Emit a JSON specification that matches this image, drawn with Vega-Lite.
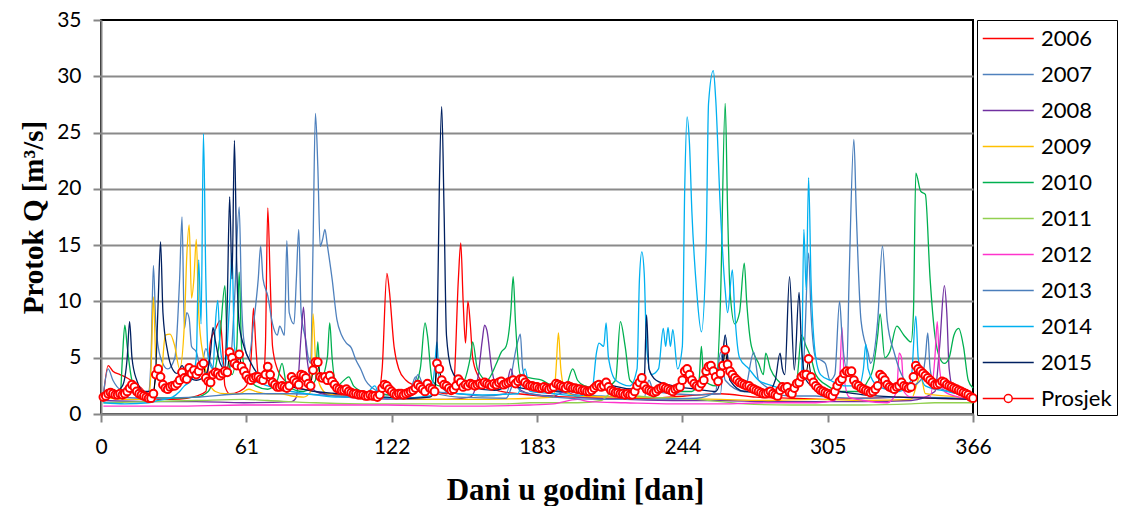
{
"$schema":"https://vega.github.io/schema/vega-lite/v6.json",
"autosize":"none",
"width":872,"height":394,
"padding":{"left":101,"top":20,"right":158,"bottom":92},
"background":"white",
"config":{"view":{"stroke":"black","strokeWidth":2},"font":"Lato"},
"datasets":{
"years":[
{"s":"2006","d":1,"q":1.5},{"s":"2006","d":3,"q":4.3},{"s":"2006","d":5,"q":3.8},{"s":"2006","d":8,"q":3.5},{"s":"2006","d":11,"q":3.2},{"s":"2006","d":14,"q":2.8},{"s":"2006","d":17,"q":2.3},{"s":"2006","d":20,"q":1.6},{"s":"2006","d":24,"q":1.3},{"s":"2006","d":30,"q":1.3},{"s":"2006","d":36,"q":1.4},{"s":"2006","d":40,"q":1.6},{"s":"2006","d":44,"q":2.0},{"s":"2006","d":46,"q":6.5},{"s":"2006","d":48,"q":7.5},{"s":"2006","d":50,"q":8.3},{"s":"2006","d":51,"q":6},{"s":"2006","d":52,"q":2.5},{"s":"2006","d":54,"q":1.8},{"s":"2006","d":58,"q":2.0},{"s":"2006","d":61,"q":2.5},{"s":"2006","d":63,"q":5},{"s":"2006","d":64,"q":9.4},{"s":"2006","d":65,"q":6},{"s":"2006","d":66,"q":3.5},{"s":"2006","d":68,"q":3},{"s":"2006","d":69,"q":6},{"s":"2006","d":70,"q":18.3},{"s":"2006","d":71,"q":12},{"s":"2006","d":72,"q":6},{"s":"2006","d":74,"q":4},{"s":"2006","d":77,"q":3},{"s":"2006","d":80,"q":2.5},{"s":"2006","d":85,"q":2.2},{"s":"2006","d":90,"q":2},{"s":"2006","d":95,"q":1.8},{"s":"2006","d":100,"q":1.7},{"s":"2006","d":105,"q":1.6},{"s":"2006","d":110,"q":1.5},{"s":"2006","d":116,"q":1.5},{"s":"2006","d":118,"q":4},{"s":"2006","d":120,"q":12.5},{"s":"2006","d":121,"q":11},{"s":"2006","d":123,"q":6},{"s":"2006","d":125,"q":4},{"s":"2006","d":128,"q":3},{"s":"2006","d":132,"q":2.5},{"s":"2006","d":136,"q":2.2},{"s":"2006","d":140,"q":2.0},{"s":"2006","d":145,"q":1.8},{"s":"2006","d":148,"q":2.5},{"s":"2006","d":150,"q":12},{"s":"2006","d":151,"q":15.2},{"s":"2006","d":152,"q":10},{"s":"2006","d":153,"q":6.3},{"s":"2006","d":154,"q":10},{"s":"2006","d":155,"q":8},{"s":"2006","d":156,"q":5},{"s":"2006","d":158,"q":3.5},{"s":"2006","d":162,"q":2.5},{"s":"2006","d":168,"q":2},{"s":"2006","d":175,"q":1.8},{"s":"2006","d":185,"q":1.6},{"s":"2006","d":200,"q":1.5},{"s":"2006","d":215,"q":1.4},{"s":"2006","d":230,"q":1.4},{"s":"2006","d":245,"q":1.6},{"s":"2006","d":260,"q":1.8},{"s":"2006","d":275,"q":1.5},{"s":"2006","d":290,"q":1.4},{"s":"2006","d":305,"q":1.3},{"s":"2006","d":320,"q":1.4},{"s":"2006","d":335,"q":1.5},{"s":"2006","d":350,"q":1.4},{"s":"2006","d":366,"q":1.3},
{"s":"2007","d":1,"q":1.8},{"s":"2007","d":3,"q":4},{"s":"2007","d":5,"q":3},{"s":"2007","d":8,"q":2.2},{"s":"2007","d":12,"q":2},{"s":"2007","d":16,"q":1.8},{"s":"2007","d":20,"q":2},{"s":"2007","d":21,"q":5},{"s":"2007","d":22,"q":13.2},{"s":"2007","d":23,"q":8},{"s":"2007","d":25,"q":5},{"s":"2007","d":28,"q":4},{"s":"2007","d":31,"q":5},{"s":"2007","d":33,"q":12},{"s":"2007","d":34,"q":17.5},{"s":"2007","d":35,"q":7.6},{"s":"2007","d":36,"q":9},{"s":"2007","d":37,"q":8.5},{"s":"2007","d":38,"q":6},{"s":"2007","d":40,"q":5.5},{"s":"2007","d":42,"q":4},{"s":"2007","d":44,"q":5.8},{"s":"2007","d":46,"q":4.5},{"s":"2007","d":50,"q":3.5},{"s":"2007","d":54,"q":4},{"s":"2007","d":56,"q":10},{"s":"2007","d":58,"q":18.4},{"s":"2007","d":59,"q":10},{"s":"2007","d":60,"q":6.5},{"s":"2007","d":62,"q":5},{"s":"2007","d":64,"q":8},{"s":"2007","d":66,"q":12},{"s":"2007","d":67,"q":14.9},{"s":"2007","d":68,"q":12},{"s":"2007","d":70,"q":10.5},{"s":"2007","d":72,"q":8},{"s":"2007","d":74,"q":7},{"s":"2007","d":75,"q":7.8},{"s":"2007","d":77,"q":7},{"s":"2007","d":78,"q":15.4},{"s":"2007","d":79,"q":9},{"s":"2007","d":81,"q":8},{"s":"2007","d":82,"q":12},{"s":"2007","d":83,"q":16.4},{"s":"2007","d":84,"q":9},{"s":"2007","d":86,"q":6.5},{"s":"2007","d":87,"q":5},{"s":"2007","d":88,"q":4.5},{"s":"2007","d":89,"q":15},{"s":"2007","d":90,"q":26.7},{"s":"2007","d":91,"q":22},{"s":"2007","d":92,"q":14.9},{"s":"2007","d":93,"q":15.5},{"s":"2007","d":94,"q":16.4},{"s":"2007","d":95,"q":15},{"s":"2007","d":97,"q":12},{"s":"2007","d":99,"q":8.4},{"s":"2007","d":101,"q":7},{"s":"2007","d":103,"q":6.3},{"s":"2007","d":105,"q":5.9},{"s":"2007","d":107,"q":4.8},{"s":"2007","d":109,"q":4},{"s":"2007","d":111,"q":3},{"s":"2007","d":114,"q":2.3},{"s":"2007","d":118,"q":1.8},{"s":"2007","d":125,"q":1.6},{"s":"2007","d":130,"q":2.2},{"s":"2007","d":132,"q":3.3},{"s":"2007","d":134,"q":2.5},{"s":"2007","d":140,"q":2},{"s":"2007","d":150,"q":1.8},{"s":"2007","d":160,"q":1.6},{"s":"2007","d":170,"q":1.8},{"s":"2007","d":175,"q":6.5},{"s":"2007","d":176,"q":7.1},{"s":"2007","d":177,"q":4},{"s":"2007","d":180,"q":2.5},{"s":"2007","d":190,"q":2},{"s":"2007","d":200,"q":1.7},{"s":"2007","d":210,"q":1.6},{"s":"2007","d":220,"q":1.5},{"s":"2007","d":228,"q":1.5},{"s":"2007","d":230,"q":3},{"s":"2007","d":232,"q":2},{"s":"2007","d":240,"q":1.8},{"s":"2007","d":250,"q":1.7},{"s":"2007","d":260,"q":1.8},{"s":"2007","d":262,"q":7},{"s":"2007","d":264,"q":3},{"s":"2007","d":270,"q":2},{"s":"2007","d":280,"q":1.8},{"s":"2007","d":290,"q":1.6},{"s":"2007","d":300,"q":1.6},{"s":"2007","d":305,"q":1.5},{"s":"2007","d":320,"q":1.4},{"s":"2007","d":340,"q":1.5},{"s":"2007","d":366,"q":1.4},
{"s":"2008","d":1,"q":1.2},{"s":"2008","d":20,"q":1.1},{"s":"2008","d":40,"q":1.1},{"s":"2008","d":60,"q":1.0},{"s":"2008","d":80,"q":1.1},{"s":"2008","d":82,"q":1.5},{"s":"2008","d":84,"q":7},{"s":"2008","d":85,"q":9.5},{"s":"2008","d":86,"q":6},{"s":"2008","d":88,"q":3},{"s":"2008","d":90,"q":2},{"s":"2008","d":95,"q":1.7},{"s":"2008","d":110,"q":1.4},{"s":"2008","d":130,"q":1.3},{"s":"2008","d":145,"q":1.3},{"s":"2008","d":155,"q":1.5},{"s":"2008","d":158,"q":3},{"s":"2008","d":160,"q":6.5},{"s":"2008","d":161,"q":7.9},{"s":"2008","d":162,"q":7.4},{"s":"2008","d":164,"q":4},{"s":"2008","d":166,"q":2.5},{"s":"2008","d":170,"q":2.5},{"s":"2008","d":172,"q":4},{"s":"2008","d":174,"q":2.5},{"s":"2008","d":180,"q":1.8},{"s":"2008","d":190,"q":1.6},{"s":"2008","d":195,"q":2},{"s":"2008","d":200,"q":1.5},{"s":"2008","d":220,"q":1.3},{"s":"2008","d":240,"q":1.2},{"s":"2008","d":260,"q":1.2},{"s":"2008","d":280,"q":1.1},{"s":"2008","d":300,"q":1.1},{"s":"2008","d":320,"q":1.1},{"s":"2008","d":340,"q":1.2},{"s":"2008","d":350,"q":2},{"s":"2008","d":352,"q":6},{"s":"2008","d":354,"q":11.4},{"s":"2008","d":355,"q":9},{"s":"2008","d":356,"q":4},{"s":"2008","d":358,"q":2},{"s":"2008","d":366,"q":1.5},
{"s":"2009","d":1,"q":1.5},{"s":"2009","d":10,"q":1.3},{"s":"2009","d":20,"q":1.3},{"s":"2009","d":21,"q":4},{"s":"2009","d":22,"q":10.4},{"s":"2009","d":23,"q":5},{"s":"2009","d":25,"q":3},{"s":"2009","d":27,"q":7},{"s":"2009","d":29,"q":7.1},{"s":"2009","d":31,"q":6},{"s":"2009","d":33,"q":4},{"s":"2009","d":35,"q":8},{"s":"2009","d":36,"q":14},{"s":"2009","d":37,"q":16.8},{"s":"2009","d":38,"q":10.3},{"s":"2009","d":39,"q":12},{"s":"2009","d":40,"q":15.5},{"s":"2009","d":41,"q":9},{"s":"2009","d":43,"q":5},{"s":"2009","d":45,"q":3},{"s":"2009","d":48,"q":2},{"s":"2009","d":52,"q":1.8},{"s":"2009","d":58,"q":1.8},{"s":"2009","d":62,"q":2.2},{"s":"2009","d":65,"q":2.0},{"s":"2009","d":70,"q":1.8},{"s":"2009","d":75,"q":1.8},{"s":"2009","d":80,"q":1.6},{"s":"2009","d":85,"q":1.5},{"s":"2009","d":88,"q":2},{"s":"2009","d":89,"q":8.9},{"s":"2009","d":90,"q":5},{"s":"2009","d":92,"q":2.5},{"s":"2009","d":95,"q":1.8},{"s":"2009","d":105,"q":1.5},{"s":"2009","d":120,"q":1.4},{"s":"2009","d":140,"q":1.3},{"s":"2009","d":160,"q":1.3},{"s":"2009","d":180,"q":1.4},{"s":"2009","d":190,"q":1.5},{"s":"2009","d":191,"q":4},{"s":"2009","d":192,"q":7.2},{"s":"2009","d":193,"q":4},{"s":"2009","d":195,"q":2},{"s":"2009","d":200,"q":1.6},{"s":"2009","d":220,"q":1.5},{"s":"2009","d":240,"q":1.4},{"s":"2009","d":260,"q":1.3},{"s":"2009","d":280,"q":1.2},{"s":"2009","d":300,"q":1.3},{"s":"2009","d":320,"q":1.2},{"s":"2009","d":340,"q":1.3},{"s":"2009","d":344,"q":3.4},{"s":"2009","d":346,"q":1.8},{"s":"2009","d":360,"q":1.5},{"s":"2009","d":366,"q":1.3},
{"s":"2010","d":1,"q":1.5},{"s":"2010","d":8,"q":1.5},{"s":"2010","d":9,"q":5},{"s":"2010","d":10,"q":7.9},{"s":"2010","d":11,"q":6},{"s":"2010","d":13,"q":3},{"s":"2010","d":16,"q":2},{"s":"2010","d":20,"q":1.5},{"s":"2010","d":30,"q":1.4},{"s":"2010","d":40,"q":1.5},{"s":"2010","d":45,"q":2},{"s":"2010","d":48,"q":4},{"s":"2010","d":50,"q":7},{"s":"2010","d":52,"q":11.4},{"s":"2010","d":53,"q":6},{"s":"2010","d":55,"q":3.5},{"s":"2010","d":57,"q":6},{"s":"2010","d":58,"q":12.6},{"s":"2010","d":59,"q":6},{"s":"2010","d":61,"q":3.5},{"s":"2010","d":65,"q":2.5},{"s":"2010","d":70,"q":2.2},{"s":"2010","d":74,"q":3},{"s":"2010","d":76,"q":4.5},{"s":"2010","d":78,"q":2.5},{"s":"2010","d":85,"q":2},{"s":"2010","d":90,"q":3},{"s":"2010","d":91,"q":6.4},{"s":"2010","d":92,"q":3},{"s":"2010","d":95,"q":5},{"s":"2010","d":96,"q":8.1},{"s":"2010","d":97,"q":5},{"s":"2010","d":99,"q":2.5},{"s":"2010","d":102,"q":3},{"s":"2010","d":104,"q":3.3},{"s":"2010","d":106,"q":2.5},{"s":"2010","d":110,"q":2},{"s":"2010","d":120,"q":1.7},{"s":"2010","d":130,"q":1.8},{"s":"2010","d":134,"q":4},{"s":"2010","d":136,"q":8.1},{"s":"2010","d":137,"q":7},{"s":"2010","d":139,"q":3},{"s":"2010","d":142,"q":2.5},{"s":"2010","d":145,"q":2.5},{"s":"2010","d":150,"q":2.2},{"s":"2010","d":155,"q":5},{"s":"2010","d":156,"q":6.4},{"s":"2010","d":158,"q":4},{"s":"2010","d":162,"q":3},{"s":"2010","d":166,"q":4.5},{"s":"2010","d":168,"q":5.5},{"s":"2010","d":170,"q":6},{"s":"2010","d":172,"q":9},{"s":"2010","d":173,"q":12.2},{"s":"2010","d":174,"q":8},{"s":"2010","d":176,"q":3.5},{"s":"2010","d":180,"q":3.2},{"s":"2010","d":185,"q":3},{"s":"2010","d":190,"q":2.5},{"s":"2010","d":195,"q":2.5},{"s":"2010","d":198,"q":4},{"s":"2010","d":200,"q":3},{"s":"2010","d":203,"q":2.5},{"s":"2010","d":210,"q":2.2},{"s":"2010","d":216,"q":3},{"s":"2010","d":218,"q":8.2},{"s":"2010","d":220,"q":6},{"s":"2010","d":222,"q":3},{"s":"2010","d":226,"q":2.5},{"s":"2010","d":232,"q":2.3},{"s":"2010","d":240,"q":2},{"s":"2010","d":248,"q":2},{"s":"2010","d":251,"q":3},{"s":"2010","d":252,"q":6},{"s":"2010","d":253,"q":3},{"s":"2010","d":258,"q":2.5},{"s":"2010","d":260,"q":10},{"s":"2010","d":262,"q":27.6},{"s":"2010","d":263,"q":18},{"s":"2010","d":264,"q":11},{"s":"2010","d":266,"q":8},{"s":"2010","d":268,"q":9},{"s":"2010","d":270,"q":13.4},{"s":"2010","d":271,"q":10},{"s":"2010","d":273,"q":6},{"s":"2010","d":276,"q":4.5},{"s":"2010","d":278,"q":3.5},{"s":"2010","d":279,"q":5.4},{"s":"2010","d":281,"q":4},{"s":"2010","d":284,"q":3},{"s":"2010","d":288,"q":2.5},{"s":"2010","d":292,"q":3},{"s":"2010","d":294,"q":7},{"s":"2010","d":296,"q":6},{"s":"2010","d":298,"q":5},{"s":"2010","d":300,"q":3.5},{"s":"2010","d":305,"q":2.5},{"s":"2010","d":310,"q":2},{"s":"2010","d":318,"q":2},{"s":"2010","d":322,"q":3},{"s":"2010","d":324,"q":4},{"s":"2010","d":326,"q":7},{"s":"2010","d":327,"q":8.9},{"s":"2010","d":329,"q":5},{"s":"2010","d":331,"q":5.5},{"s":"2010","d":334,"q":7.8},{"s":"2010","d":337,"q":7},{"s":"2010","d":340,"q":6.4},{"s":"2010","d":341,"q":9},{"s":"2010","d":342,"q":21.4},{"s":"2010","d":344,"q":19.8},{"s":"2010","d":346,"q":19.5},{"s":"2010","d":348,"q":12},{"s":"2010","d":350,"q":7},{"s":"2010","d":352,"q":5},{"s":"2010","d":354,"q":4.5},{"s":"2010","d":356,"q":5},{"s":"2010","d":358,"q":7},{"s":"2010","d":360,"q":7.6},{"s":"2010","d":362,"q":6},{"s":"2010","d":364,"q":3},{"s":"2010","d":366,"q":2.3},
{"s":"2011","d":1,"q":1.0},{"s":"2011","d":20,"q":1.1},{"s":"2011","d":40,"q":1.2},{"s":"2011","d":60,"q":1.3},{"s":"2011","d":70,"q":1.2},{"s":"2011","d":90,"q":1.0},{"s":"2011","d":110,"q":0.9},{"s":"2011","d":130,"q":0.9},{"s":"2011","d":150,"q":0.9},{"s":"2011","d":170,"q":0.9},{"s":"2011","d":180,"q":1.0},{"s":"2011","d":200,"q":1.0},{"s":"2011","d":210,"q":1.2},{"s":"2011","d":215,"q":2.0},{"s":"2011","d":225,"q":1.6},{"s":"2011","d":240,"q":1.4},{"s":"2011","d":250,"q":1.3},{"s":"2011","d":260,"q":1.1},{"s":"2011","d":270,"q":0.9},{"s":"2011","d":290,"q":0.8},{"s":"2011","d":305,"q":0.8},{"s":"2011","d":320,"q":0.8},{"s":"2011","d":340,"q":0.9},{"s":"2011","d":350,"q":1.0},{"s":"2011","d":366,"q":1.0},
{"s":"2012","d":1,"q":0.7},{"s":"2012","d":30,"q":0.7},{"s":"2012","d":60,"q":0.8},{"s":"2012","d":90,"q":0.8},{"s":"2012","d":120,"q":0.8},{"s":"2012","d":150,"q":0.7},{"s":"2012","d":180,"q":0.8},{"s":"2012","d":190,"q":0.9},{"s":"2012","d":200,"q":1.3},{"s":"2012","d":205,"q":1.1},{"s":"2012","d":220,"q":1.0},{"s":"2012","d":240,"q":0.9},{"s":"2012","d":260,"q":0.9},{"s":"2012","d":280,"q":1.0},{"s":"2012","d":300,"q":1.0},{"s":"2012","d":308,"q":1.2},{"s":"2012","d":310,"q":3},{"s":"2012","d":311,"q":7.7},{"s":"2012","d":312,"q":3},{"s":"2012","d":314,"q":1.5},{"s":"2012","d":320,"q":1.2},{"s":"2012","d":330,"q":1.0},{"s":"2012","d":334,"q":2},{"s":"2012","d":335,"q":5.4},{"s":"2012","d":336,"q":5},{"s":"2012","d":337,"q":2},{"s":"2012","d":340,"q":1.5},{"s":"2012","d":348,"q":1.5},{"s":"2012","d":350,"q":5},{"s":"2012","d":351,"q":8.2},{"s":"2012","d":352,"q":4},{"s":"2012","d":354,"q":2},{"s":"2012","d":360,"q":1.5},{"s":"2012","d":366,"q":1.2},
{"s":"2013","d":1,"q":1.6},{"s":"2013","d":20,"q":1.4},{"s":"2013","d":40,"q":1.5},{"s":"2013","d":60,"q":1.8},{"s":"2013","d":80,"q":1.8},{"s":"2013","d":100,"q":1.6},{"s":"2013","d":120,"q":1.4},{"s":"2013","d":130,"q":1.6},{"s":"2013","d":133,"q":3.5},{"s":"2013","d":136,"q":2.2},{"s":"2013","d":150,"q":1.5},{"s":"2013","d":170,"q":1.4},{"s":"2013","d":174,"q":3},{"s":"2013","d":176,"q":2},{"s":"2013","d":190,"q":1.5},{"s":"2013","d":210,"q":1.3},{"s":"2013","d":230,"q":1.3},{"s":"2013","d":250,"q":1.4},{"s":"2013","d":258,"q":2},{"s":"2013","d":260,"q":5.5},{"s":"2013","d":262,"q":3},{"s":"2013","d":270,"q":2},{"s":"2013","d":274,"q":5.5},{"s":"2013","d":276,"q":3},{"s":"2013","d":285,"q":2},{"s":"2013","d":292,"q":2.2},{"s":"2013","d":295,"q":5},{"s":"2013","d":297,"q":14.3},{"s":"2013","d":298,"q":9},{"s":"2013","d":300,"q":5},{"s":"2013","d":302,"q":4.8},{"s":"2013","d":304,"q":4.5},{"s":"2013","d":306,"q":3},{"s":"2013","d":308,"q":3.5},{"s":"2013","d":310,"q":10},{"s":"2013","d":311,"q":7},{"s":"2013","d":313,"q":4},{"s":"2013","d":314,"q":12},{"s":"2013","d":316,"q":24.4},{"s":"2013","d":317,"q":18},{"s":"2013","d":319,"q":8.3},{"s":"2013","d":322,"q":5.4},{"s":"2013","d":323,"q":4.5},{"s":"2013","d":326,"q":8.3},{"s":"2013","d":328,"q":14.9},{"s":"2013","d":330,"q":8.3},{"s":"2013","d":333,"q":5.4},{"s":"2013","d":336,"q":3.5},{"s":"2013","d":340,"q":2.5},{"s":"2013","d":344,"q":3},{"s":"2013","d":346,"q":5},{"s":"2013","d":347,"q":7.2},{"s":"2013","d":348,"q":4},{"s":"2013","d":350,"q":2.5},{"s":"2013","d":356,"q":2},{"s":"2013","d":366,"q":1.5},
{"s":"2014","d":1,"q":1.0},{"s":"2014","d":10,"q":0.9},{"s":"2014","d":20,"q":1.0},{"s":"2014","d":24,"q":1.2},{"s":"2014","d":30,"q":1.5},{"s":"2014","d":33,"q":2},{"s":"2014","d":35,"q":2.5},{"s":"2014","d":38,"q":3},{"s":"2014","d":40,"q":5},{"s":"2014","d":41,"q":13.7},{"s":"2014","d":42,"q":8},{"s":"2014","d":43,"q":24.9},{"s":"2014","d":44,"q":12},{"s":"2014","d":45,"q":5},{"s":"2014","d":47,"q":4},{"s":"2014","d":48,"q":8},{"s":"2014","d":49,"q":10.1},{"s":"2014","d":50,"q":6},{"s":"2014","d":52,"q":4},{"s":"2014","d":54,"q":10},{"s":"2014","d":55,"q":14.3},{"s":"2014","d":56,"q":6},{"s":"2014","d":58,"q":4},{"s":"2014","d":62,"q":3},{"s":"2014","d":66,"q":2.8},{"s":"2014","d":70,"q":2.5},{"s":"2014","d":75,"q":2.2},{"s":"2014","d":80,"q":2},{"s":"2014","d":90,"q":1.7},{"s":"2014","d":100,"q":1.5},{"s":"2014","d":110,"q":1.5},{"s":"2014","d":115,"q":2.5},{"s":"2014","d":117,"q":1.5},{"s":"2014","d":125,"q":1.4},{"s":"2014","d":138,"q":1.6},{"s":"2014","d":140,"q":4},{"s":"2014","d":141,"q":6.4},{"s":"2014","d":142,"q":3},{"s":"2014","d":145,"q":2},{"s":"2014","d":150,"q":1.8},{"s":"2014","d":160,"q":1.7},{"s":"2014","d":175,"q":1.8},{"s":"2014","d":178,"q":4},{"s":"2014","d":180,"q":2},{"s":"2014","d":190,"q":1.8},{"s":"2014","d":200,"q":1.6},{"s":"2014","d":206,"q":2},{"s":"2014","d":208,"q":5.5},{"s":"2014","d":209,"q":6.3},{"s":"2014","d":211,"q":6},{"s":"2014","d":212,"q":8.1},{"s":"2014","d":213,"q":5},{"s":"2014","d":216,"q":3},{"s":"2014","d":222,"q":2.5},{"s":"2014","d":225,"q":4},{"s":"2014","d":226,"q":12},{"s":"2014","d":227,"q":14.4},{"s":"2014","d":228,"q":12.5},{"s":"2014","d":229,"q":6},{"s":"2014","d":231,"q":3.5},{"s":"2014","d":234,"q":4},{"s":"2014","d":236,"q":7.6},{"s":"2014","d":237,"q":6},{"s":"2014","d":238,"q":7.7},{"s":"2014","d":239,"q":6},{"s":"2014","d":240,"q":7.5},{"s":"2014","d":242,"q":4},{"s":"2014","d":244,"q":6},{"s":"2014","d":245,"q":20},{"s":"2014","d":246,"q":26.4},{"s":"2014","d":247,"q":24},{"s":"2014","d":248,"q":18},{"s":"2014","d":250,"q":11},{"s":"2014","d":252,"q":7.3},{"s":"2014","d":254,"q":15},{"s":"2014","d":255,"q":27.6},{"s":"2014","d":257,"q":30.5},{"s":"2014","d":258,"q":28},{"s":"2014","d":260,"q":18},{"s":"2014","d":262,"q":11},{"s":"2014","d":263,"q":9},{"s":"2014","d":265,"q":12.8},{"s":"2014","d":266,"q":9},{"s":"2014","d":268,"q":5},{"s":"2014","d":272,"q":4},{"s":"2014","d":276,"q":3},{"s":"2014","d":282,"q":2.5},{"s":"2014","d":290,"q":2},{"s":"2014","d":294,"q":3},{"s":"2014","d":295,"q":16.4},{"s":"2014","d":296,"q":11},{"s":"2014","d":297,"q":21},{"s":"2014","d":298,"q":12},{"s":"2014","d":300,"q":5},{"s":"2014","d":302,"q":3.5},{"s":"2014","d":306,"q":3},{"s":"2014","d":312,"q":2.5},{"s":"2014","d":318,"q":2.5},{"s":"2014","d":320,"q":4},{"s":"2014","d":321,"q":6.2},{"s":"2014","d":322,"q":4},{"s":"2014","d":326,"q":2.5},{"s":"2014","d":335,"q":2},{"s":"2014","d":340,"q":3},{"s":"2014","d":342,"q":8.7},{"s":"2014","d":343,"q":5},{"s":"2014","d":346,"q":2.5},{"s":"2014","d":355,"q":2},{"s":"2014","d":366,"q":1.5},
{"s":"2015","d":1,"q":1.8},{"s":"2015","d":5,"q":1.8},{"s":"2015","d":9,"q":2.5},{"s":"2015","d":11,"q":5},{"s":"2015","d":12,"q":8.2},{"s":"2015","d":13,"q":5},{"s":"2015","d":15,"q":3},{"s":"2015","d":18,"q":2},{"s":"2015","d":22,"q":2},{"s":"2015","d":23,"q":4},{"s":"2015","d":24,"q":10},{"s":"2015","d":25,"q":15.3},{"s":"2015","d":26,"q":9},{"s":"2015","d":28,"q":5.5},{"s":"2015","d":30,"q":4},{"s":"2015","d":32,"q":3.6},{"s":"2015","d":34,"q":4.3},{"s":"2015","d":36,"q":3.5},{"s":"2015","d":40,"q":3.0},{"s":"2015","d":44,"q":3.5},{"s":"2015","d":46,"q":5.5},{"s":"2015","d":47,"q":7.7},{"s":"2015","d":48,"q":6.5},{"s":"2015","d":50,"q":4.5},{"s":"2015","d":52,"q":4},{"s":"2015","d":53,"q":10},{"s":"2015","d":54,"q":19.3},{"s":"2015","d":55,"q":12},{"s":"2015","d":56,"q":24.3},{"s":"2015","d":57,"q":13},{"s":"2015","d":58,"q":8},{"s":"2015","d":60,"q":6},{"s":"2015","d":63,"q":4.5},{"s":"2015","d":66,"q":3.5},{"s":"2015","d":70,"q":3},{"s":"2015","d":75,"q":2.6},{"s":"2015","d":80,"q":2.4},{"s":"2015","d":90,"q":2},{"s":"2015","d":100,"q":1.8},{"s":"2015","d":110,"q":1.6},{"s":"2015","d":120,"q":1.5},{"s":"2015","d":130,"q":1.4},{"s":"2015","d":138,"q":1.5},{"s":"2015","d":140,"q":2},{"s":"2015","d":141,"q":6},{"s":"2015","d":142,"q":20},{"s":"2015","d":143,"q":27.3},{"s":"2015","d":144,"q":18},{"s":"2015","d":145,"q":7},{"s":"2015","d":147,"q":4},{"s":"2015","d":150,"q":3},{"s":"2015","d":155,"q":2.4},{"s":"2015","d":165,"q":2.1},{"s":"2015","d":170,"q":2.5},{"s":"2015","d":171,"q":3.2},{"s":"2015","d":173,"q":2.5},{"s":"2015","d":180,"q":2.2},{"s":"2015","d":200,"q":2},{"s":"2015","d":210,"q":2.8},{"s":"2015","d":212,"q":3},{"s":"2015","d":215,"q":2.5},{"s":"2015","d":225,"q":2.2},{"s":"2015","d":228,"q":3},{"s":"2015","d":229,"q":8.8},{"s":"2015","d":230,"q":4},{"s":"2015","d":233,"q":3},{"s":"2015","d":240,"q":2.5},{"s":"2015","d":250,"q":2.2},{"s":"2015","d":258,"q":2},{"s":"2015","d":260,"q":3},{"s":"2015","d":262,"q":7},{"s":"2015","d":264,"q":3},{"s":"2015","d":270,"q":2},{"s":"2015","d":280,"q":2},{"s":"2015","d":283,"q":3},{"s":"2015","d":285,"q":5.4},{"s":"2015","d":286,"q":4},{"s":"2015","d":287,"q":3.5},{"s":"2015","d":289,"q":12.2},{"s":"2015","d":291,"q":3.9},{"s":"2015","d":293,"q":10.8},{"s":"2015","d":294,"q":6},{"s":"2015","d":296,"q":3},{"s":"2015","d":300,"q":2.3},{"s":"2015","d":310,"q":2},{"s":"2015","d":320,"q":1.7},{"s":"2015","d":335,"q":1.5},{"s":"2015","d":350,"q":1.4},{"s":"2015","d":366,"q":1.3}
],
"avg":[
{"d":1,"q":1.5},{"d":2,"q":1.6},{"d":3,"q":1.8},{"d":4,"q":1.9},{"d":5,"q":1.8},{"d":6,"q":1.7},{"d":7,"q":1.7},{"d":8,"q":1.8},{"d":9,"q":1.7},{"d":10,"q":1.8},
{"d":11,"q":2.0},{"d":12,"q":2.3},{"d":13,"q":2.6},{"d":14,"q":2.4},{"d":15,"q":2.0},{"d":16,"q":1.8},{"d":17,"q":1.7},{"d":18,"q":1.6},{"d":19,"q":1.5},{"d":20,"q":1.4},
{"d":21,"q":1.4},{"d":22,"q":1.8},{"d":23,"q":3.5},{"d":24,"q":4.0},{"d":25,"q":3.3},{"d":26,"q":2.6},{"d":27,"q":2.3},{"d":28,"q":2.2},{"d":29,"q":2.4},{"d":30,"q":2.5},
{"d":31,"q":2.5},{"d":32,"q":2.7},{"d":33,"q":3.0},{"d":34,"q":3.7},{"d":35,"q":3.2},{"d":36,"q":3.1},{"d":37,"q":4.1},{"d":38,"q":3.6},{"d":39,"q":3.9},{"d":40,"q":3.5},
{"d":41,"q":3.8},{"d":42,"q":4.3},{"d":43,"q":4.5},{"d":44,"q":3.2},{"d":45,"q":2.9},{"d":46,"q":2.8},{"d":47,"q":3.5},{"d":48,"q":3.7},{"d":49,"q":3.6},{"d":50,"q":3.4},
{"d":51,"q":3.6},{"d":52,"q":3.8},{"d":53,"q":3.7},{"d":54,"q":5.5},{"d":55,"q":5.0},{"d":56,"q":4.5},{"d":57,"q":4.3},{"d":58,"q":5.3},{"d":59,"q":4.2},{"d":60,"q":3.8},
{"d":61,"q":3.4},{"d":62,"q":3.1},{"d":63,"q":3.0},{"d":64,"q":3.2},{"d":65,"q":3.3},{"d":66,"q":3.3},{"d":67,"q":3.1},{"d":68,"q":3.0},{"d":69,"q":3.5},{"d":70,"q":4.2},
{"d":71,"q":3.5},{"d":72,"q":2.8},{"d":73,"q":2.6},{"d":74,"q":2.4},{"d":75,"q":2.4},{"d":76,"q":2.5},{"d":77,"q":2.4},{"d":78,"q":2.3},{"d":79,"q":2.5},{"d":80,"q":3.3},
{"d":81,"q":3.0},{"d":82,"q":2.8},{"d":83,"q":2.6},{"d":84,"q":3.5},{"d":85,"q":3.4},{"d":86,"q":3.2},{"d":87,"q":2.7},{"d":88,"q":2.5},{"d":89,"q":3.9},{"d":90,"q":4.6},
{"d":91,"q":4.6},{"d":92,"q":3.3},{"d":93,"q":3.2},{"d":94,"q":3.3},{"d":95,"q":3.0},{"d":96,"q":3.4},{"d":97,"q":2.9},{"d":98,"q":2.6},{"d":99,"q":2.3},{"d":100,"q":2.2},
{"d":101,"q":2.1},{"d":102,"q":2.1},{"d":103,"q":2.2},{"d":104,"q":2.0},{"d":105,"q":1.9},{"d":106,"q":1.8},{"d":107,"q":1.8},{"d":108,"q":1.7},{"d":109,"q":1.7},{"d":110,"q":1.7},
{"d":111,"q":1.6},{"d":112,"q":1.6},{"d":113,"q":1.7},{"d":114,"q":1.6},{"d":115,"q":1.6},{"d":116,"q":1.5},{"d":117,"q":1.7},{"d":118,"q":2.3},{"d":119,"q":2.6},{"d":120,"q":2.5},
{"d":121,"q":2.2},{"d":122,"q":2.0},{"d":123,"q":1.8},{"d":124,"q":1.7},{"d":125,"q":1.8},{"d":126,"q":1.8},{"d":127,"q":1.7},{"d":128,"q":1.8},{"d":129,"q":1.9},{"d":130,"q":2.0},
{"d":131,"q":2.1},{"d":132,"q":2.3},{"d":133,"q":2.6},{"d":134,"q":2.4},{"d":135,"q":2.2},{"d":136,"q":2.0},{"d":137,"q":2.7},{"d":138,"q":2.3},{"d":139,"q":2.2},{"d":140,"q":2.0},
{"d":141,"q":4.5},{"d":142,"q":4.0},{"d":143,"q":3.0},{"d":144,"q":2.6},{"d":145,"q":2.5},{"d":146,"q":2.3},{"d":147,"q":2.1},{"d":148,"q":2.2},{"d":149,"q":2.5},{"d":150,"q":3.1},
{"d":151,"q":2.8},{"d":152,"q":2.4},{"d":153,"q":2.6},{"d":154,"q":2.5},{"d":155,"q":2.7},{"d":156,"q":2.6},{"d":157,"q":2.5},{"d":158,"q":2.6},{"d":159,"q":2.7},{"d":160,"q":2.6},
{"d":161,"q":2.8},{"d":162,"q":2.7},{"d":163,"q":2.6},{"d":164,"q":2.5},{"d":165,"q":2.7},{"d":166,"q":2.6},{"d":167,"q":2.8},{"d":168,"q":2.9},{"d":169,"q":2.6},{"d":170,"q":2.7},
{"d":171,"q":2.8},{"d":172,"q":2.9},{"d":173,"q":3.0},{"d":174,"q":2.7},{"d":175,"q":2.9},{"d":176,"q":3.1},{"d":177,"q":3.1},{"d":178,"q":2.8},{"d":179,"q":2.6},{"d":180,"q":2.5},
{"d":181,"q":2.5},{"d":182,"q":2.4},{"d":183,"q":2.4},{"d":184,"q":2.3},{"d":185,"q":2.3},{"d":186,"q":2.4},{"d":187,"q":2.3},{"d":188,"q":2.2},{"d":189,"q":2.3},{"d":190,"q":2.4},
{"d":191,"q":2.7},{"d":192,"q":2.6},{"d":193,"q":2.5},{"d":194,"q":2.4},{"d":195,"q":2.3},{"d":196,"q":2.5},{"d":197,"q":2.4},{"d":198,"q":2.3},{"d":199,"q":2.3},{"d":200,"q":2.2},
{"d":201,"q":2.2},{"d":202,"q":2.1},{"d":203,"q":2.1},{"d":204,"q":2.0},{"d":205,"q":2.0},{"d":206,"q":2.1},{"d":207,"q":2.3},{"d":208,"q":2.5},{"d":209,"q":2.6},{"d":210,"q":2.4},
{"d":211,"q":2.5},{"d":212,"q":2.8},{"d":213,"q":2.4},{"d":214,"q":2.1},{"d":215,"q":2.0},{"d":216,"q":1.9},{"d":217,"q":1.9},{"d":218,"q":1.8},{"d":219,"q":1.8},{"d":220,"q":1.7},
{"d":221,"q":1.8},{"d":222,"q":1.7},{"d":223,"q":1.7},{"d":224,"q":2.0},{"d":225,"q":2.5},{"d":226,"q":2.8},{"d":227,"q":3.2},{"d":228,"q":2.5},{"d":229,"q":2.2},{"d":230,"q":2.1},
{"d":231,"q":2.0},{"d":232,"q":1.9},{"d":233,"q":2.0},{"d":234,"q":2.2},{"d":235,"q":2.3},{"d":236,"q":2.4},{"d":237,"q":2.3},{"d":238,"q":2.2},{"d":239,"q":2.1},{"d":240,"q":2.0},
{"d":241,"q":2.2},{"d":242,"q":2.3},{"d":243,"q":2.4},{"d":244,"q":3.0},{"d":245,"q":3.8},{"d":246,"q":4.0},{"d":247,"q":3.5},{"d":248,"q":3.0},{"d":249,"q":2.7},{"d":250,"q":2.5},
{"d":251,"q":2.4},{"d":252,"q":2.7},{"d":253,"q":3.0},{"d":254,"q":3.8},{"d":255,"q":4.2},{"d":256,"q":4.3},{"d":257,"q":3.8},{"d":258,"q":3.3},{"d":259,"q":2.9},{"d":260,"q":3.6},
{"d":261,"q":4.3},{"d":262,"q":5.7},{"d":263,"q":4.4},{"d":264,"q":3.8},{"d":265,"q":3.5},{"d":266,"q":3.2},{"d":267,"q":3.0},{"d":268,"q":2.8},{"d":269,"q":2.7},{"d":270,"q":2.6},
{"d":271,"q":2.5},{"d":272,"q":2.5},{"d":273,"q":2.3},{"d":274,"q":2.2},{"d":275,"q":2.1},{"d":276,"q":2.0},{"d":277,"q":1.9},{"d":278,"q":1.8},{"d":279,"q":1.8},{"d":280,"q":1.9},
{"d":281,"q":2.0},{"d":282,"q":1.8},{"d":283,"q":1.7},{"d":284,"q":1.6},{"d":285,"q":2.1},{"d":286,"q":2.4},{"d":287,"q":2.3},{"d":288,"q":2.4},{"d":289,"q":1.9},{"d":290,"q":1.8},
{"d":291,"q":2.3},{"d":292,"q":2.7},{"d":293,"q":2.8},{"d":294,"q":3.3},{"d":295,"q":3.5},{"d":296,"q":3.5},{"d":297,"q":4.9},{"d":298,"q":3.3},{"d":299,"q":2.8},{"d":300,"q":2.5},
{"d":301,"q":2.3},{"d":302,"q":2.1},{"d":303,"q":2.0},{"d":304,"q":1.9},{"d":305,"q":1.8},{"d":306,"q":1.7},{"d":307,"q":1.6},{"d":308,"q":2.0},{"d":309,"q":2.5},{"d":310,"q":2.9},
{"d":311,"q":3.1},{"d":312,"q":3.6},{"d":313,"q":3.8},{"d":314,"q":3.7},{"d":315,"q":3.8},{"d":316,"q":3.0},{"d":317,"q":2.6},{"d":318,"q":2.5},{"d":319,"q":2.3},{"d":320,"q":2.2},
{"d":321,"q":2.1},{"d":322,"q":2.0},{"d":323,"q":1.9},{"d":324,"q":2.0},{"d":325,"q":2.2},{"d":326,"q":2.5},{"d":327,"q":3.5},{"d":328,"q":3.3},{"d":329,"q":3.0},{"d":330,"q":2.6},
{"d":331,"q":2.4},{"d":332,"q":2.3},{"d":333,"q":2.2},{"d":334,"q":2.4},{"d":335,"q":2.5},{"d":336,"q":2.8},{"d":337,"q":2.5},{"d":338,"q":2.4},{"d":339,"q":2.3},{"d":340,"q":2.4},
{"d":341,"q":3.3},{"d":342,"q":4.3},{"d":343,"q":4.0},{"d":344,"q":3.8},{"d":345,"q":3.6},{"d":346,"q":3.4},{"d":347,"q":3.2},{"d":348,"q":3.0},{"d":349,"q":2.8},{"d":350,"q":2.6},
{"d":351,"q":2.6},{"d":352,"q":2.7},{"d":353,"q":2.9},{"d":354,"q":2.8},{"d":355,"q":2.6},{"d":356,"q":2.5},{"d":357,"q":2.4},{"d":358,"q":2.3},{"d":359,"q":2.2},{"d":360,"q":2.1},
{"d":361,"q":2.0},{"d":362,"q":1.9},{"d":363,"q":1.8},{"d":364,"q":1.7},{"d":365,"q":1.5},{"d":366,"q":1.4}
]
},
"encoding":{
"x":{"field":"d","type":"quantitative","scale":{"domain":[0,366],"nice":false,"zero":false},
"axis":{"values":[0,61,122,183,244,305,366],"grid":false,"domainColor":"#868686","domainWidth":2,"tickColor":"#868686","tickWidth":2,"tickSize":8,"labelFont":"Lato","labelFontSize":21,"labelColor":"black","labelPadding":14,"labelFlush":false,"title":"Dani u godini [dan]","titleFont":"Liberation Serif","titleFontSize":31,"titleFontWeight":"bold","titleColor":"black","titleX":474,"titleY":85,"titleBaseline":"alphabetic","titleAnchor":"middle"}},
"y":{"field":"q","type":"quantitative","scale":{"domain":[0,35],"nice":false},
"axis":{"values":[0,5,10,15,20,25,30,35],"grid":true,"gridColor":"#8a8a8a","gridWidth":1.8,"gridOpacity":{"condition":{"test":"datum.value === 35","value":0},"value":1},"domainColor":"#868686","domainWidth":2,"tickColor":"#868686","tickWidth":2,"tickSize":8,"labelFont":"Lato","labelFontSize":21,"labelColor":"black","labelPadding":12,"title":"Protok Q [m³/s]","titleFont":"Liberation Serif","titleFontSize":29,"titleFontWeight":"bold","titleColor":"black","titlePadding":8}}
},
"layer":[
{"data":{"name":"years"},
"mark":{"type":"line","strokeWidth":1.3,"interpolate":"monotone"},
"encoding":{"color":{"field":"s","type":"nominal",
"scale":{"domain":["2006","2007","2008","2009","2010","2011","2012","2013","2014","2015","Prosjek"],"range":["#FF0000","#4F81BD","#7030A0","#FFC000","#00B050","#92D050","#FF33CC","#4A7EBB","#00B0F0","#002060","#FF0000"]},
"legend":{"orient":"none","legendX":876,"legendY":0,"title":null,"symbolType":"M-1,0H3","symbolSize":650,"symbolStrokeWidth":1.5,"labelOffset":32,"labelFont":"Lato","labelFontSize":22,"labelColor":"black","rowPadding":11,"padding":5,"strokeColor":"black","labelExpr":"datum.label + '          '",
"encode":{"symbols":{"update":{
"shape":[{"test":"datum.value === 'Prosjek'","value":"M-1,0H0.69M1.31,0H3M0.69,0A0.31,0.31,0,1,1,1.31,0A0.31,0.31,0,1,1,0.69,0"},{"value":"M-1,0H3"}],
"fill":[{"test":"datum.value === 'Prosjek'","value":"white"},{"value":"transparent"}]
}}}}}}},
{"data":{"name":"avg"},"mark":{"type":"line","color":"black","strokeWidth":1},"encoding":{}},
{"data":{"name":"avg"},"mark":{"type":"point","filled":true,"fill":"white","stroke":"#FF0000","strokeWidth":2,"size":60,"opacity":1},"encoding":{}}
]
}
